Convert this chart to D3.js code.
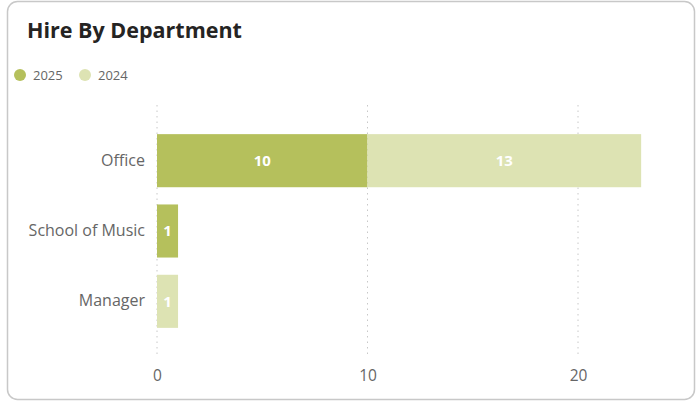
<!DOCTYPE html>
<html><head><meta charset="utf-8">
<script src="https://cdn.jsdelivr.net/npm/d3@7"></script>
<style>
html,body{margin:0;padding:0;background:#fff;}
svg{display:block;font-family:"Segoe UI","Open Sans","Noto Sans",sans-serif;}
</style></head>
<body><svg id="c" width="697" height="402"></svg>
<script>
const categories = ["Office", "School of Music", "Manager"];
const seriesNames = ["2025", "2024"];
const values2025 = [10, 1, 0];
const values2024 = [13, 0, 1];
const xTicks = [0, 10, 20];
const colors = ["#b5c05c", "#dde3b3"];

const svg = d3.select("#c");
svg.append("rect").attr("x", 7.5).attr("y", 1.5).attr("width", 687).attr("height", 398)
  .attr("rx", 10).attr("fill", "#fff").attr("stroke", "#c8c8c8").attr("stroke-width", 1.5);

svg.append("text").attr("x", 27).attr("y", 38).text("Hire By Department")
  .attr("font-size", 21.5).attr("font-weight", 700).attr("fill", "#252423");

const legend = svg.append("g");
let lx = 20;
seriesNames.forEach((s, i) => {
  legend.append("circle").attr("cx", lx).attr("cy", 75).attr("r", 6).attr("fill", colors[i]);
  legend.append("text").attr("x", lx + 13).attr("y", 79.5).text(s)
    .attr("font-size", 13).attr("fill", "#666");
  lx += 65;
});

const x = d3.scaleLinear().domain([0, 20]).range([157, 578]);
const y = d3.scaleBand().domain(categories).range([125, 337]).paddingInner(0.245).paddingOuter(0.13);

const data = categories.map((c, i) => ({cat: c, "2025": values2025[i], "2024": values2024[i]}));
const stack = d3.stack().keys(seriesNames)(data);

// grid
const grid = svg.append("g");
xTicks.forEach(t => {
  grid.append("line").attr("x1", x(t)).attr("x2", x(t)).attr("y1", 105).attr("y2", 357)
    .attr("stroke", "#c8c8c8").attr("stroke-dasharray", "1.5,4");
});

const xAxis = svg.append("g").attr("transform", "translate(0,360)")
  .call(d3.axisBottom(x).tickValues(xTicks).tickSize(0).tickPadding(10));
xAxis.select(".domain").remove();
xAxis.selectAll("text").attr("font-size", 15.5).attr("fill", "#666")
  .attr("font-family", "'Segoe UI','Open Sans',sans-serif");

const yAxis = svg.append("g").attr("transform", "translate(145,0)")
  .call(d3.axisLeft(y).tickSize(0).tickPadding(0));
yAxis.select(".domain").remove();
yAxis.selectAll("text").attr("font-size", 16).attr("fill", "#666")
  .attr("font-family", "'Segoe UI','Open Sans',sans-serif");

stack.forEach((layer, i) => {
  const g = svg.append("g");
  layer.forEach(d => {
    const v = d[1] - d[0];
    if (v <= 0) return;
    g.append("rect").attr("x", x(d[0])).attr("y", y(d.data.cat))
      .attr("width", x(d[1]) - x(d[0])).attr("height", y.bandwidth()).attr("fill", colors[i]);
    g.append("text").attr("x", (x(d[0]) + x(d[1])) / 2).attr("y", y(d.data.cat) + y.bandwidth() / 2)
      .attr("dy", "0.35em").attr("text-anchor", "middle").text(v)
      .attr("font-size", 15).attr("font-weight", 700).attr("fill", "#fff");
  });
});
</script></body></html>
